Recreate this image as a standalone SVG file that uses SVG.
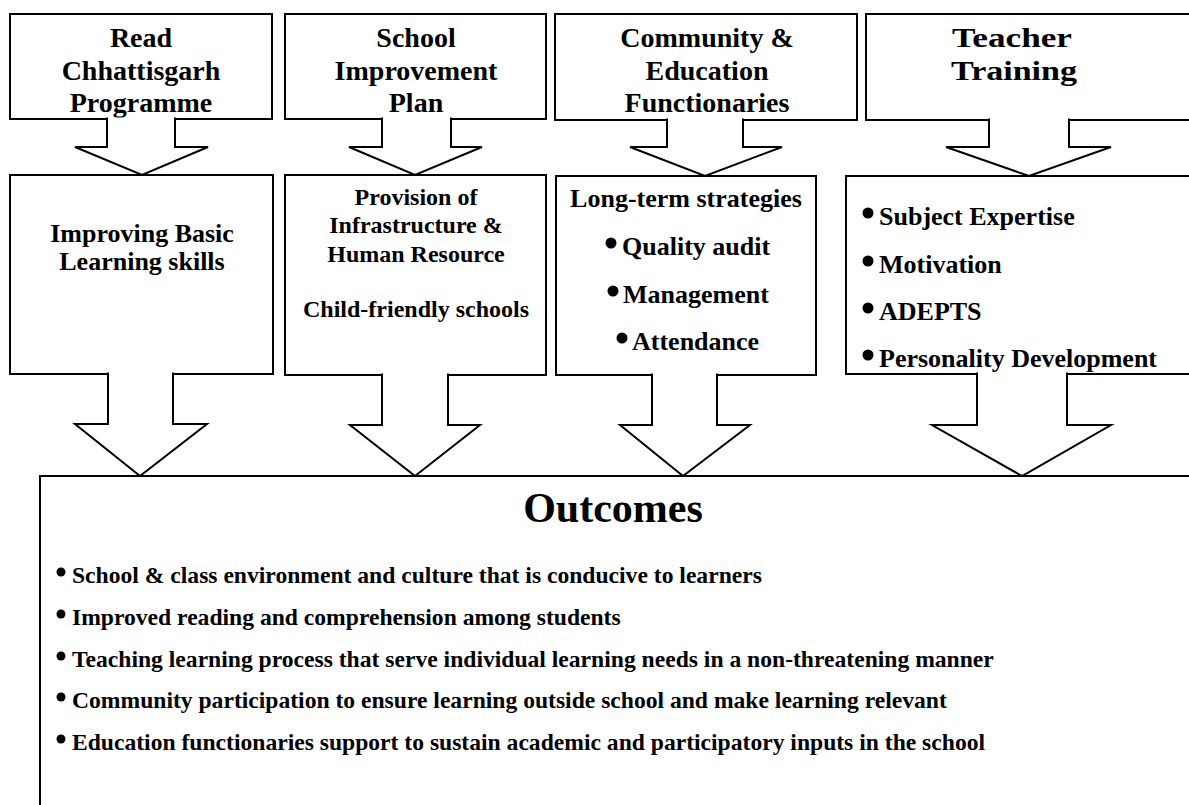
<svg xmlns="http://www.w3.org/2000/svg" width="1189" height="805" viewBox="0 0 1189 805">
<style>
.box{fill:#fff;stroke:#000;stroke-width:2}
.arrow{fill:#fff;stroke:#000;stroke-width:2;stroke-linejoin:miter}
.t{font-family:"Liberation Serif","Times New Roman",serif;font-weight:bold;fill:#000}
.title{font-size:28px;text-anchor:middle}
.mid{font-size:26px}
.mid2{font-size:24px;text-anchor:middle}
.c{text-anchor:middle}
.out{font-size:23.6px}
.head{font-size:42px;text-anchor:middle}
.dot{fill:#000}
</style>
<rect x="0" y="0" width="1189" height="805" fill="#fff"/>
<g id="top-read">
<rect class="box" x="10" y="14" width="262" height="105"/>
<text class="t title" x="141" y="47">Read</text>
<text class="t title" x="141" y="80">Chhattisgarh</text>
<text class="t title" x="141" y="112">Programme</text>
</g>
<g id="top-sip">
<rect class="box" x="285" y="14" width="261" height="105"/>
<text class="t title" x="416" y="47">School</text>
<text class="t title" x="416" y="80">Improvement</text>
<text class="t title" x="416" y="112">Plan</text>
</g>
<g id="top-community">
<rect class="box" x="555" y="14" width="302" height="106"/>
<text class="t title" x="707" y="47">Community &amp;</text>
<text class="t title" x="707" y="80">Education</text>
<text class="t title" x="707" y="112">Functionaries</text>
</g>
<g id="top-teacher">
<rect class="box" x="866" y="14" width="400" height="106"/>
<text class="t title" x="1012" y="47" textLength="120" lengthAdjust="spacingAndGlyphs">Teacher</text>
<text class="t title" x="1014" y="80" textLength="126" lengthAdjust="spacingAndGlyphs">Training</text>
</g>
<g id="mid-basic">
<rect class="box" x="10" y="175" width="263" height="199"/>
<text class="t mid c" x="142" y="242">Improving Basic</text>
<text class="t mid c" x="142" y="270">Learning skills</text>
</g>
<g id="mid-infra">
<rect class="box" x="285" y="175" width="261" height="200"/>
<text class="t mid2" x="416" y="205">Provision of</text>
<text class="t mid2" x="416" y="233">Infrastructure &amp;</text>
<text class="t mid2" x="416" y="262">Human Resource</text>
<text class="t mid2" x="416" y="317">Child-friendly schools</text>
</g>
<g id="mid-strategies">
<rect class="box" x="556" y="176" width="260" height="199"/>
<text class="t mid c" x="686" y="207">Long-term strategies</text>
<circle class="dot" cx="611" cy="243" r="5.5"/>
<text class="t mid" x="622" y="255">Quality audit</text>
<circle class="dot" cx="613" cy="291" r="5.5"/>
<text class="t mid" x="623" y="303">Management</text>
<circle class="dot" cx="622" cy="338" r="5.5"/>
<text class="t mid" x="632" y="350">Attendance</text>
</g>
<g id="mid-training">
<rect class="box" x="846" y="176" width="400" height="198"/>
<circle class="dot" cx="868" cy="213" r="5.5"/>
<text class="t mid" x="879" y="225">Subject Expertise</text>
<circle class="dot" cx="868" cy="261" r="5.5"/>
<text class="t mid" x="879" y="273">Motivation</text>
<circle class="dot" cx="868" cy="308" r="5.5"/>
<text class="t mid" x="879" y="320">ADEPTS</text>
<circle class="dot" cx="868" cy="355" r="5.5"/>
<text class="t mid" x="879" y="367">Personality Development</text>
</g>
<g id="outcomes">
<rect class="box" x="40" y="476" width="1200" height="400"/>
<text class="t head" x="613" y="522">Outcomes</text>
<circle class="dot" cx="61" cy="572" r="4.5"/>
<text class="t out" x="72" y="583">School &amp; class environment and culture that is conducive to learners</text>
<circle class="dot" cx="61" cy="614" r="4.5"/>
<text class="t out" x="72" y="625">Improved reading and comprehension among students</text>
<circle class="dot" cx="61" cy="656" r="4.5"/>
<text class="t out" x="72" y="667">Teaching learning process that serve individual learning needs in a non-threatening manner</text>
<circle class="dot" cx="61" cy="697" r="4.5"/>
<text class="t out" x="72" y="708">Community participation to ensure learning outside school and make learning relevant</text>
<circle class="dot" cx="61" cy="739" r="4.5"/>
<text class="t out" x="72" y="750">Education functionaries support to sustain academic and participatory inputs in the school</text>
</g>
<g id="connectors">
<polyline class="arrow" points="107,117.5 107,147 75,147 142,175 208,147 175,147 175,117.5"/>
<polyline class="arrow" points="382,117.5 382,147 349,147 415,175 482,147 451,147 451,117.5"/>
<polyline class="arrow" points="667,118.5 667,147 630,147 705,176 782,147 743,147 743,118.5"/>
<polyline class="arrow" points="989,118.5 989,147 946,147 1029,176 1111,147 1069,147 1069,118.5"/>
<polyline class="arrow" points="108,372.5 108,424 75,424 140,476 207,424 173,424 173,372.5"/>
<polyline class="arrow" points="382,373.5 382,425 350,425 415,476 480,425 448,425 448,373.5"/>
<polyline class="arrow" points="652,373.5 652,425 620,425 683,476 750,425 717,425 717,373.5"/>
<polyline class="arrow" points="977,372.5 977,425 932,425 1022,476 1111,425 1067,425 1067,372.5"/>
</g>
</svg>
